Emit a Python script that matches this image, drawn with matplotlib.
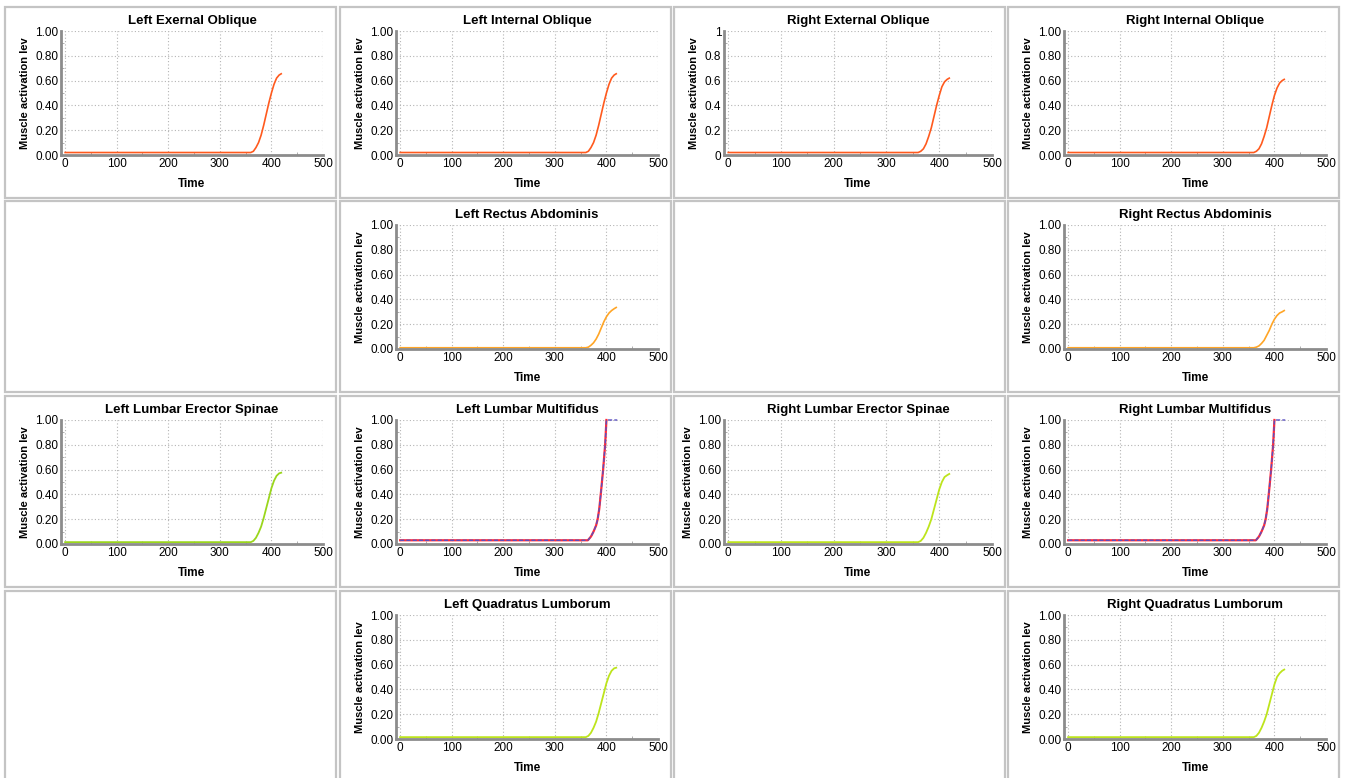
import numpy as np
import matplotlib.pyplot as plt
from matplotlib.patches import Rectangle
from matplotlib.ticker import MultipleLocator, FormatStrFormatter

plt.rcParams['font.family'] = ['Liberation Sans', 'DejaVu Sans']

# panel titles (None = empty panel), laid out row by row on a 4x4 grid
titles = [
    'Left Exernal Oblique', 'Left Internal Oblique', 'Right External Oblique', 'Right Internal Oblique',
    None, 'Left Rectus Abdominis', None, 'Right Rectus Abdominis',
    'Left Lumbar Erector Spinae', 'Left Lumbar Multifidus', 'Right Lumbar Erector Spinae', 'Right Lumbar Multifidus',
    None, 'Left Quadratus Lumborum', None, 'Right Quadratus Lumborum',
]

# time samples
t_sig = [0, 360, 365, 370, 375, 380, 385, 390, 395, 400, 405, 410, 415, 419]
t_mf = [0, 364, 370, 375, 380, 383, 386, 389, 393.6, 397.5, 400]
t_mf_blue = [0, 364, 370, 375, 380, 383, 386, 389, 393.6, 397.5, 400, 410, 421]

# activation levels per muscle
left_ext_obl = [0.02, 0.02, 0.03, 0.06, 0.10, 0.16, 0.24, 0.33, 0.42, 0.50, 0.57, 0.62, 0.645, 0.655]
left_int_obl = [0.02, 0.02, 0.03, 0.06, 0.10, 0.16, 0.24, 0.33, 0.42, 0.50, 0.57, 0.62, 0.645, 0.655]
right_ext_obl = [0.02, 0.02, 0.03, 0.05, 0.09, 0.15, 0.22, 0.31, 0.40, 0.48, 0.55, 0.59, 0.61, 0.62]
right_int_obl = [0.02, 0.02, 0.03, 0.05, 0.09, 0.15, 0.22, 0.31, 0.40, 0.48, 0.54, 0.58, 0.60, 0.61]
left_rectus = [0.01, 0.01, 0.015, 0.03, 0.05, 0.08, 0.12, 0.17, 0.22, 0.26, 0.29, 0.31, 0.325, 0.335]
right_rectus = [0.01, 0.01, 0.015, 0.025, 0.045, 0.07, 0.11, 0.15, 0.20, 0.24, 0.27, 0.29, 0.30, 0.31]
left_erector = [0.015, 0.015, 0.025, 0.05, 0.09, 0.14, 0.21, 0.29, 0.37, 0.45, 0.51, 0.55, 0.57, 0.575]
right_erector = [0.015, 0.015, 0.025, 0.05, 0.09, 0.14, 0.20, 0.28, 0.36, 0.44, 0.50, 0.54, 0.555, 0.565]
left_quadratus = [0.015, 0.015, 0.025, 0.05, 0.09, 0.14, 0.21, 0.29, 0.37, 0.45, 0.51, 0.55, 0.57, 0.575]
right_quadratus = [0.015, 0.015, 0.025, 0.05, 0.09, 0.14, 0.20, 0.28, 0.36, 0.44, 0.50, 0.53, 0.55, 0.56]
left_multifidus = [0.03, 0.03, 0.06, 0.10, 0.15, 0.20, 0.28, 0.40, 0.60, 0.80, 1.00]
left_multifidus_b = [0.03, 0.03, 0.06, 0.10, 0.15, 0.20, 0.28, 0.40, 0.60, 0.80, 1.00, 1.00, 1.00]
right_multifidus = [0.03, 0.03, 0.06, 0.10, 0.15, 0.20, 0.28, 0.40, 0.60, 0.80, 1.00]
right_multifidus_b = [0.03, 0.03, 0.06, 0.10, 0.15, 0.20, 0.28, 0.40, 0.60, 0.80, 1.00, 1.00, 1.00]

OBL = '#ff5a1e'
RECT = '#ffa526'
ERECT = '#9ad61c'
QUAD = '#bde41c'
RED = '#ff2a3a'
BLUE = '#5a50c0'

# (t, values, colour, linestyle, linewidth)
series = {
    'Left Exernal Oblique': [(t_sig, left_ext_obl, OBL, '-', 1.2)],
    'Left Internal Oblique': [(t_sig, left_int_obl, OBL, '-', 1.2)],
    'Right External Oblique': [(t_sig, right_ext_obl, OBL, '-', 1.2)],
    'Right Internal Oblique': [(t_sig, right_int_obl, OBL, '-', 1.2)],
    'Left Rectus Abdominis': [(t_sig, left_rectus, RECT, '-', 1.2)],
    'Right Rectus Abdominis': [(t_sig, right_rectus, RECT, '-', 1.2)],
    'Left Lumbar Erector Spinae': [(t_sig, left_erector, ERECT, '-', 1.3)],
    'Right Lumbar Erector Spinae': [(t_sig, right_erector, QUAD, '-', 1.3)],
    'Left Quadratus Lumborum': [(t_sig, left_quadratus, QUAD, '-', 1.3)],
    'Right Quadratus Lumborum': [(t_sig, right_quadratus, QUAD, '-', 1.3)],
    'Left Lumbar Multifidus': [(t_mf, left_multifidus, RED, '-', 1.6),
                               (t_mf_blue, left_multifidus_b, BLUE, (0, (3, 1.5)), 1.0)],
    'Right Lumbar Multifidus': [(t_mf, right_multifidus, RED, '-', 1.6),
                                (t_mf_blue, right_multifidus_b, BLUE, (0, (3, 1.5)), 1.0)],
}

W, H = 1346, 778
fig = plt.figure(figsize=(W / 100, H / 100), dpi=100)

col_x = [5, 340, 674, 1008]
row_y = [7, 201, 396, 591]
pw, ph = 331, 191

for i, title in enumerate(titles):
    r, c = divmod(i, 4)
    x0, y0 = col_x[c], row_y[r]
    fig.patches.append(Rectangle((x0 / W, 1 - (y0 + ph) / H), pw / W, ph / H,
                                 transform=fig.transFigure, fill=False,
                                 edgecolor='#c4c4c4', linewidth=1.6))
    if title is None:
        continue
    left = x0 + (50 if c == 2 else 56)
    right = x0 + 318
    top = y0 + 24
    bottom = y0 + 148
    ax = fig.add_axes([left / W, 1 - bottom / H, (right - left) / W, (bottom - top) / H])
    for tt, vv, col, ls, lw in series[title]:
        ax.plot(tt, vv, color=col, linestyle=ls, linewidth=lw, clip_on=False)
    ax.set_xlim(-8, 500)
    ax.set_ylim(0, 1)
    ax.xaxis.set_major_locator(MultipleLocator(100))
    ax.xaxis.set_minor_locator(MultipleLocator(50))
    ax.yaxis.set_major_locator(MultipleLocator(0.2))
    ax.yaxis.set_minor_locator(MultipleLocator(0.1))
    if title == 'Right External Oblique':
        ax.set_yticks([0, 0.2, 0.4, 0.6, 0.8, 1.0])
        ax.set_yticklabels(['0', '0.2', '0.4', '0.6', '0.8', '1'])
    else:
        ax.yaxis.set_major_formatter(FormatStrFormatter('%.2f'))
    ax.grid(True, which='major', color='#b4b4b4', linestyle=(0, (1, 2)), linewidth=0.8)
    for s in ['top', 'right']:
        ax.spines[s].set_visible(False)
    for s in ['left', 'bottom']:
        ax.spines[s].set_color('#8c8c8c')
        ax.spines[s].set_linewidth(2)
    ax.tick_params(which='major', length=0, labelsize=8.5, pad=2)
    ax.tick_params(which='minor', length=2, direction='in', color='#a0a0a0')
    ax.set_title(title, fontsize=9.5, fontweight='bold', pad=5)
    ax.set_xlabel('Time', fontsize=8.5, fontweight='bold', labelpad=6)
    ax.set_ylabel('Muscle activation lev', fontsize=8, fontweight='bold', labelpad=4)

fig.savefig('out.png', dpi=100)
